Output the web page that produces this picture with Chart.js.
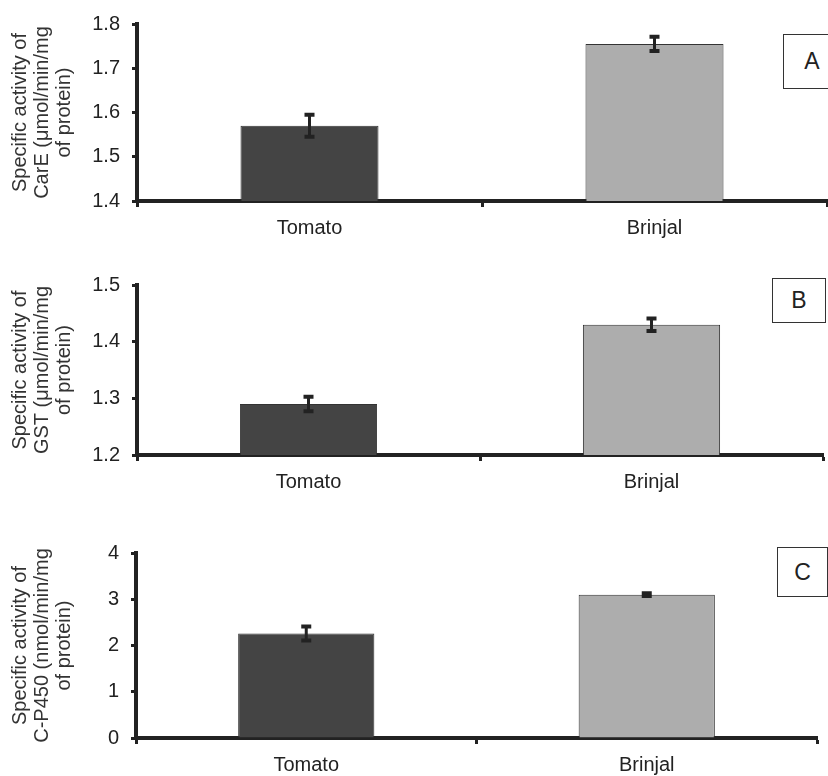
<!DOCTYPE html>
<html>
<head>
<meta charset="utf-8">
<script src="https://cdn.jsdelivr.net/npm/chart.js@4/dist/chart.umd.min.js"></script>
<style>
  body { margin: 0; background: #fff; width: 828px; height: 776px; overflow: hidden; position: relative; }
  canvas { position: absolute; left: 0; }
  .tag {
    position: absolute; box-sizing: border-box; border: 1px solid #333; background: #fff;
    font: 23px "Liberation Sans", Arial, sans-serif; color: #222;
    display: flex; align-items: center; justify-content: center;
  }
</style>
</head>
<body>
<canvas id="chartA" width="828" height="240" style="top:0px"></canvas>
<canvas id="chartB" width="828" height="260" style="top:250px"></canvas>
<canvas id="chartC" width="828" height="266" style="top:510px"></canvas>
<div class="tag" style="left:783px;top:34px;width:58px;height:55px">A</div>
<div class="tag" style="left:772px;top:278px;width:54px;height:45px">B</div>
<div class="tag" style="left:777px;top:547px;width:51px;height:50px">C</div>
<script>
const categories = ['Tomato', 'Brinjal'];
const barColors = ['#444444', '#adadad'];

// panel A - CarE
const careValues = [1.57, 1.755];
const careErrors = [0.025, 0.016];
const careTitle = ['Specific activity of', 'CarE (μmol/min/mg', 'of protein)'];

// panel B - GST
const gstValues = [1.29, 1.43];
const gstErrors = [0.013, 0.011];
const gstTitle = ['Specific activity of', 'GST (μmol/min/mg', 'of protein)'];

// panel C - C-P450
const p450Values = [2.26, 3.10];
const p450Errors = [0.15, 0.03];
const p450Title = ['Specific activity of', 'C-P450 (nmol/min/mg', 'of protein)'];

const ink = '#222';
const font = 'Liberation Sans';

// draws the little I shaped error bars on top of each bar
const errorBars = {
  id: 'errorBars',
  afterDatasetsDraw(chart) {
    let ctx = chart.ctx;
    let y = chart.scales.y;
    let errs = chart.options.plugins.errorBars.errors;
    chart.getDatasetMeta(0).data.forEach((bar, i) => {
      let v = chart.data.datasets[0].data[i];
      let top = y.getPixelForValue(v + errs[i]);
      let bottom = y.getPixelForValue(v - errs[i]);
      ctx.save();
      ctx.strokeStyle = ink;
      ctx.lineWidth = 3;
      ctx.beginPath();
      ctx.moveTo(bar.x, top);
      ctx.lineTo(bar.x, bottom);
      ctx.stroke();
      ctx.lineWidth = 4;
      ctx.beginPath();
      ctx.moveTo(bar.x - 5, top);
      ctx.lineTo(bar.x + 5, top);
      ctx.moveTo(bar.x - 5, bottom);
      ctx.lineTo(bar.x + 5, bottom);
      ctx.stroke();
      ctx.restore();
    })
  }
}

const makeChart = (id, values, errors, title, yr, box) => {
  let ctx = document.getElementById(id).getContext('2d');
  return new Chart(ctx, {
    type: 'bar',
    data: {
      labels: categories,
      datasets: [{
        data: values,
        backgroundColor: barColors,
        borderColor: '#333',
        borderWidth: 1,
        barPercentage: 0.4,
        categoryPercentage: 1,
      }]
    },
    plugins: [errorBars],
    options: {
      responsive: false,
      animation: false,
      devicePixelRatio: 1,
      layout: { padding: { top: box.top, right: box.right, left: 0, bottom: 0 } },
      plugins: {
        legend: { display: false },
        tooltip: { enabled: false },
        errorBars: { errors: errors },
      },
      scales: {
        x: {
          offset: true,
          afterFit: s => { s.height = box.xh },
          grid: { display: true, offset: true, drawOnChartArea: false, tickLength: 6, tickWidth: 3, tickColor: ink },
          border: { display: true, width: 4, color: ink },
          ticks: { color: ink, padding: 9, font: { family: font, size: 20 } },
        },
        y: {
          min: yr.min,
          max: yr.max,
          afterFit: s => { s.width = box.yw },
          grid: { display: true, drawOnChartArea: false, tickLength: 5, tickWidth: 3, tickColor: ink },
          border: { display: true, width: 4, color: ink },
          ticks: {
            stepSize: yr.step,
            color: ink,
            padding: 12,
            font: { family: font, size: 20 },
            callback: v => v.toFixed(yr.dec),
          },
          title: {
            display: true,
            text: title,
            color: '#333',
            padding: { top: 9, bottom: 0 },
            font: { family: font, size: 20, lineHeight: 1.1 },
          }
        }
      }
    }
  });
}

makeChart('chartA', careValues, careErrors, careTitle,
  { min: 1.4, max: 1.8, step: 0.1, dec: 1 }, { top: 23, right: 1, xh: 39, yw: 137 });
makeChart('chartB', gstValues, gstErrors, gstTitle,
  { min: 1.2, max: 1.5, step: 0.1, dec: 1 }, { top: 35, right: 5, xh: 55, yw: 137 });
makeChart('chartC', p450Values, p450Errors, p450Title,
  { min: 0, max: 4, step: 1, dec: 0 }, { top: 43, right: 11, xh: 38, yw: 136 });
</script>
</body>
</html>
